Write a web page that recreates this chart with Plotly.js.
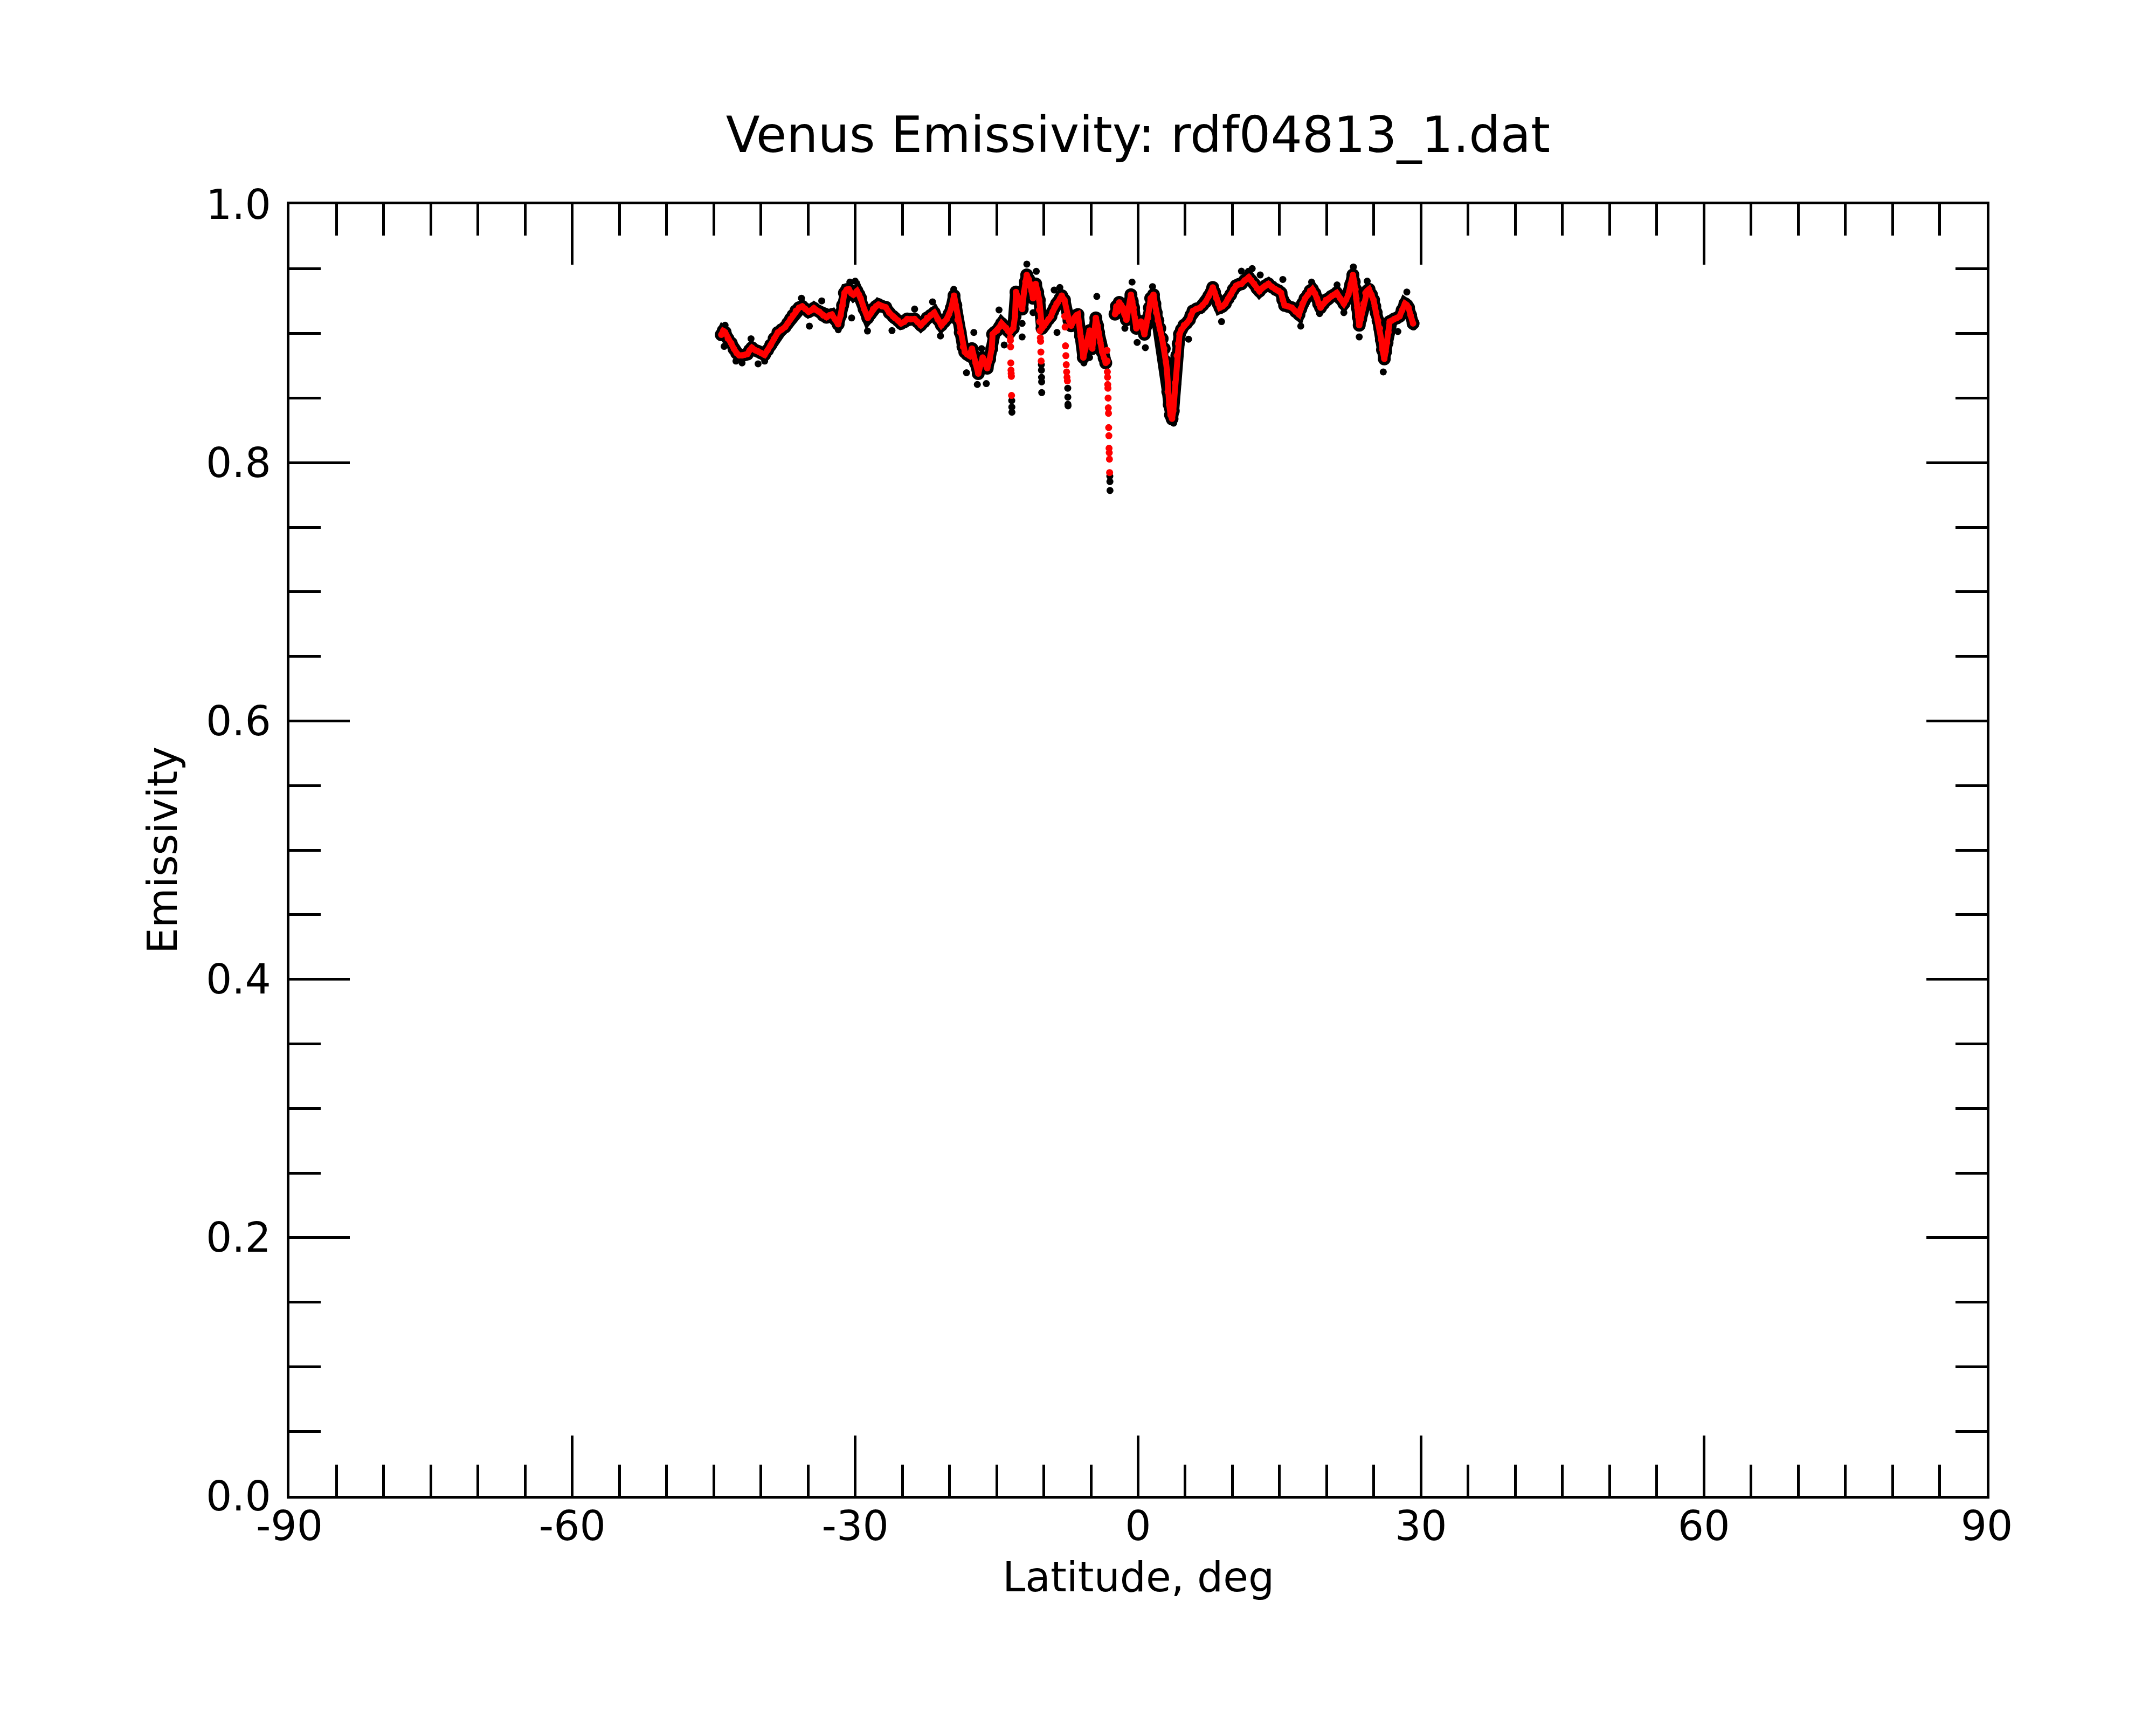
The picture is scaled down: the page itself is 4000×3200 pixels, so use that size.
<!DOCTYPE html>
<html>
<head>
<meta charset="utf-8">
<script src="https://cdn.plot.ly/plotly-3.0.1.min.js"></script>
<style>
  body { margin: 0; background: #fff; }
  #chart { width: 4000px; height: 3200px; }
</style>
</head>
<body>
<div id="chart"></div>
<script>
// Smoothed emissivity along the track (red)
var lat = [
    -44.2,-44.0,-43.8,-43.5,-43.15,-42.85,-42.57,-42.3,-42.0,-41.7,
    -41.43,-41.2,-40.96,-40.6,-40.3,-40.0,-39.62,-39.3,-38.96,-38.6,
    -38.2,-37.8,-37.43,-37.15,-36.86,-36.6,-36.29,-35.95,-35.62,-35.3,
    -34.95,-34.65,-34.38,-34.1,-33.8,-33.4,-33.05,-32.75,-32.48,-32.15,
    -31.81,-31.55,-31.34,-31.14,-30.9,-30.67,-30.4,-30.2,-29.81,-29.6,
    -29.43,-29.05,-28.67,-28.4,-28.1,-27.8,-27.53,-27.15,-26.76,-26.38,
    -26.0,-25.81,-25.45,-25.14,-24.8,-24.48,-24.1,-23.71,-23.4,-23.05,
    -22.7,-22.38,-22.0,-21.62,-21.25,-20.86,-20.55,-20.29,-20.05,-19.81,
    -19.52,-19.33,-19.14,-18.86,-18.57,-18.38,-18.15,-17.9,-17.62,-17.45,
    -17.24,-16.95,-16.7,-16.48,-16.25,-16.0,-15.75,-15.52,-15.43,-15.2,
    -14.95,-14.7,-14.48,-14.25,-14.0,-13.8,-13.62,-13.24,-13.05,-12.95,
    -12.75,-12.57,-12.29,-12.1,-11.95,-11.81,-11.6,-11.43,-11.3,-11.14,
    -10.98,-10.86,-10.65,-10.48,-10.19,-9.98,-9.81,-9.5,-9.24,-9.05,
    -8.86,-8.65,-8.48,-8.28,-8.1,-7.95,-7.81,-7.33,-7.1,-6.9,
    -6.76,-6.55,-6.38,-6.1,-5.81,-5.6,-5.42,-5.14,-4.98,-4.86,
    -4.65,-4.48,-4.3,-4.19,-4.0,-3.81,-3.6,-3.43,-2.8,-2.45,
    -2.3,-2.15,-2.0,-1.8,-1.62,-1.45,-1.24,-1.0,-0.76,-0.62,
    -0.48,-0.33,-0.19,0.05,0.29,0.5,0.67,0.85,1.06,1.2,
    1.34,1.63,1.78,1.92,2.1,2.3,2.55,2.77,2.95,3.06,
    3.15,3.3,3.44,3.6,3.73,3.92,4.11,4.25,4.39,4.6,
    4.87,5.15,5.44,5.6,5.82,6.2,6.58,6.85,7.16,7.5,
    7.92,8.1,8.3,8.5,8.68,8.95,9.25,9.55,9.82,10.1,
    10.39,10.7,10.96,11.3,11.73,12.0,12.3,12.6,12.87,13.25,
    13.5,13.82,14.2,14.58,14.9,15.16,15.35,15.54,15.9,16.3,
    16.7,17.06,17.25,17.44,17.7,18.01,18.25,18.49,18.75,18.97,
    19.15,19.35,19.65,19.92,20.2,20.49,20.8,21.06,21.45,21.82,
    22.05,22.3,22.55,22.78,22.92,23.06,23.15,23.25,23.35,23.45,
    23.6,23.73,23.9,24.11,24.3,24.49,24.75,24.97,25.1,25.25,
    25.45,25.64,25.8,25.92,26.11,26.25,26.4,26.55,26.68,26.9,
    27.16,27.45,27.73,28.0,28.3,28.5,28.68,28.9,29.16
];
var emis = [
    0.899,0.902,0.901,0.896,0.8925,0.888,0.8848,0.883,0.883,0.8835,
    0.8841,0.887,0.889,0.887,0.8862,0.885,0.8834,0.887,0.8911,0.896,
    0.9008,0.903,0.905,0.908,0.9112,0.914,0.9175,0.920,0.921,0.919,
    0.9168,0.918,0.9196,0.918,0.9168,0.914,0.9126,0.914,0.9147,0.911,
    0.9071,0.914,0.9217,0.9314,0.934,0.9342,0.931,0.930,0.9328,0.930,
    0.9273,0.9189,0.912,0.915,0.9189,0.921,0.9224,0.921,0.9203,0.916,
    0.9133,0.912,0.910,0.9078,0.909,0.9112,0.911,0.9112,0.909,0.9064,
    0.909,0.912,0.914,0.9161,0.911,0.9064,0.909,0.9112,0.915,0.9196,
    0.9293,0.9217,0.9106,0.9008,0.8897,0.8856,0.884,0.8828,0.8883,0.882,
    0.8772,0.8689,0.876,0.8814,0.877,0.8731,0.880,0.8883,0.8994,0.901,
    0.9022,0.905,0.9078,0.906,0.9043,0.902,0.9008,0.904,0.9133,0.9321,
    0.928,0.9245,0.9189,0.9321,0.940,0.9453,0.942,0.9383,0.933,0.9273,
    0.933,0.9383,0.932,0.9259,0.904,0.906,0.9078,0.911,0.9133,0.917,
    0.920,0.923,0.9245,0.927,0.9293,0.927,0.9259,0.910,0.906,0.909,
    0.912,0.914,0.9147,0.898,0.8814,0.888,0.8939,0.9022,0.895,0.8883,
    0.900,0.912,0.906,0.9008,0.893,0.8856,0.881,0.8772,null,0.915,
    0.921,0.917,0.924,0.922,0.920,0.915,0.9106,0.920,0.930,0.925,
    0.920,0.912,0.904,0.907,0.9092,0.904,0.8994,0.906,0.912,0.920,
    0.9273,0.930,0.923,0.9161,0.910,0.904,0.896,0.8883,0.878,0.8717,
    0.855,0.845,0.8369,0.834,0.840,0.8618,0.8828,0.892,0.8994,0.903,
    0.9064,0.908,0.9106,0.914,0.9175,0.919,0.920,0.922,0.9245,0.929,
    0.9356,0.932,0.9273,0.923,0.920,0.921,0.9231,0.927,0.930,0.934,
    0.937,0.938,0.9384,0.941,0.9435,0.941,0.9384,0.935,0.9328,0.9356,
    0.937,0.9384,0.936,0.9342,0.933,0.9314,0.926,0.9217,0.921,0.920,
    0.917,0.9147,0.919,0.9231,0.927,0.930,0.933,0.9342,0.931,0.9273,
    0.923,0.920,0.923,0.9259,0.927,0.9287,0.930,0.9314,0.927,0.9231,
    0.926,0.930,0.938,0.9453,0.940,0.9342,0.927,0.920,0.913,0.9064,
    0.911,0.9161,0.923,0.9314,0.933,0.9342,0.930,0.9259,0.921,0.9161,
    0.910,0.904,0.895,0.8873,0.8803,0.886,0.8928,0.901,0.9092,0.910,
    0.9112,0.912,0.9133,0.918,0.9231,0.922,0.920,0.914,0.9078
];

// Narrow dips where the smoothed points fall away one by one
var dipLat = [
    -13.56,-13.54,-13.52,-13.50,-13.48,-13.46,-13.44,-13.42,
    -10.46,-10.43,-10.40,-10.37,-10.34,-10.31,-10.28,
    -7.78,-7.74,-7.70,-7.66,-7.62,-7.58,-7.54,-7.50,
    -3.30,-3.28,-3.26,-3.24,-3.22,-3.20,-3.18,-3.16,-3.14,-3.12,-3.10,-3.08,-3.06,-3.04,-3.02
];
var dipEmis = [
    0.8966,0.8945,0.8897,0.8772,0.8716,0.8689,0.8668,0.8520,
    0.9182,0.9092,0.9022,0.8966,0.8939,0.8856,0.8786,
    0.9133,0.905,0.8904,0.8828,0.8758,0.8702,0.8661,0.8633,
    0.8869,0.8786,0.8702,0.8661,0.8605,0.8576,0.850,0.8424,0.8382,0.8271,0.8208,0.8111,0.8076,0.8027,0.7923
];

// Raw footprints lying off the smoothed band (black)
var rawLat = [
    -43.9,-43.8,-42.65,-42.0,-41.05,-40.3,-39.6,-35.7,-34.86,-33.55,
    -31.8,-30.57,-30.0,-30.38,-28.7,-26.1,-23.7,-21.8,-20.96,-19.55,
    -18.2,-17.42,-17.05,-16.6,-16.1,-14.75,-14.2,-13.40,-13.39,-13.38,
    -12.3,-12.3,-11.8,-11.14,-10.8,-10.26,-10.25,-10.24,-10.23,-10.22,
    -8.9,-8.6,-8.3,-7.46,-7.45,-7.44,-7.43,-5.75,-5.15,-4.38,
    -3.0,-2.99,-2.98,-1.4,-0.64,-0.1,0.77,1.53,3.4,3.77,
    5.35,8.85,10.96,11.7,12.1,12.95,15.35,17.25,18.4,19.25,
    21.1,21.82,22.83,23.45,24.3,26.0,26.5,27.55,28.5,29.2
];
var rawEmis = [
    0.890,0.9064,0.8786,0.8772,0.8959,0.8765,0.8786,0.9273,0.9057,0.9252,
    0.9029,0.9398,0.9405,0.912,0.9019,0.9022,0.9189,0.9245,0.8981,0.9342,
    0.8696,0.9008,0.8605,0.8883,0.8612,0.9182,0.8911,0.848,0.843,0.839,
    0.9078,0.8973,0.9537,0.9161,0.9481,0.8758,0.8716,0.866,0.8625,0.8542,
    0.9336,0.9008,0.9356,0.8576,0.8507,0.8452,0.8439,0.8772,0.8814,0.9287,
    0.7895,0.7853,0.7784,0.904,0.9398,0.8931,0.889,0.9363,0.8319,0.8306,
    0.8956,0.9092,0.9482,0.9481,0.9502,0.9453,0.9418,0.9057,0.9398,0.9154,
    0.9376,0.9161,0.9515,0.8973,0.9405,0.8702,0.8856,0.9015,0.9321,0.905
];

// Axis ticks
var xTicks = [-90, -60, -30, 0, 30, 60, 90];
var yTicks = [0.0, 0.2, 0.4, 0.6, 0.8, 1.0];

var FONT = 'DejaVu Sans, Liberation Sans, sans-serif';

var data = [
    // Raw band under the smoothed curve
    {
        x: lat, y: emis,
        type: 'scatter', mode: 'lines+markers',
        line: {color: 'black', width: 22},
        marker: {color: 'black', size: 24},
        connectgaps: false,
        hoverinfo: 'skip'
    },
    // Raw scattered points
    {
        x: rawLat, y: rawEmis,
        type: 'scatter', mode: 'markers',
        marker: {color: 'black', size: 13}
    },
    // Smoothed curve
    {
        x: lat, y: emis,
        type: 'scatter', mode: 'lines+markers',
        line: {color: 'rgb(255,0,0)', width: 11},
        marker: {color: 'rgb(255,0,0)', size: 12},
        connectgaps: false
    },
    // Smoothed dips
    {
        x: dipLat, y: dipEmis,
        type: 'scatter', mode: 'markers',
        marker: {color: 'rgb(255,0,0)', size: 13}
    }
];

var axisCommon = {
    showgrid: false,
    zeroline: false,
    showline: true,
    linecolor: 'black',
    linewidth: 5,
    mirror: 'ticks',
    ticks: 'inside',
    ticklen: 112,
    tickwidth: 5,
    tickcolor: 'black',
    tickfont: {family: FONT, size: 76, color: 'black'}
};

var layout = {
    width: 4000,
    height: 3200,
    showlegend: false,
    paper_bgcolor: 'white',
    plot_bgcolor: 'white',
    margin: {l: 537, r: 314, t: 379, b: 425},
    title: {
        text: 'Venus Emissivity: rdf04813_1.dat',
        font: {family: FONT, size: 92, color: 'black'},
        xref: 'paper', x: 0.5, xanchor: 'center',
        yref: 'container', y: 1 - 250 / 3200, yanchor: 'middle'
    },
    xaxis: Object.assign({}, axisCommon, {
        range: [-90, 90],
        tickmode: 'array',
        tickvals: xTicks,
        ticktext: xTicks.map(String),
        ticklabelstandoff: -14,
        minor: {dtick: 5, tick0: -90, ticks: 'inside', ticklen: 58, tickwidth: 5, tickcolor: 'black'}
    }),
    yaxis: Object.assign({}, axisCommon, {
        range: [0, 1],
        tickmode: 'array',
        tickvals: yTicks,
        ticktext: yTicks.map(v => v.toFixed(1)),
        ticklabelstandoff: 14,
        minor: {dtick: 0.05, tick0: 0, ticks: 'inside', ticklen: 58, tickwidth: 5, tickcolor: 'black'},
        title: {text: 'Emissivity', font: {family: FONT, size: 76, color: 'black'}, standoff: 30}
    }),
    // x-axis title placed just under the tick labels
    annotations: [{
        text: 'Latitude, deg',
        xref: 'paper', x: 0.5, xanchor: 'center',
        yref: 'paper', y: -0.063, yanchor: 'middle',
        showarrow: false,
        font: {family: FONT, size: 76, color: 'black'}
    }]
};

Plotly.newPlot('chart', data, layout, {displayModeBar: false, staticPlot: true});
</script>
</body>
</html>
